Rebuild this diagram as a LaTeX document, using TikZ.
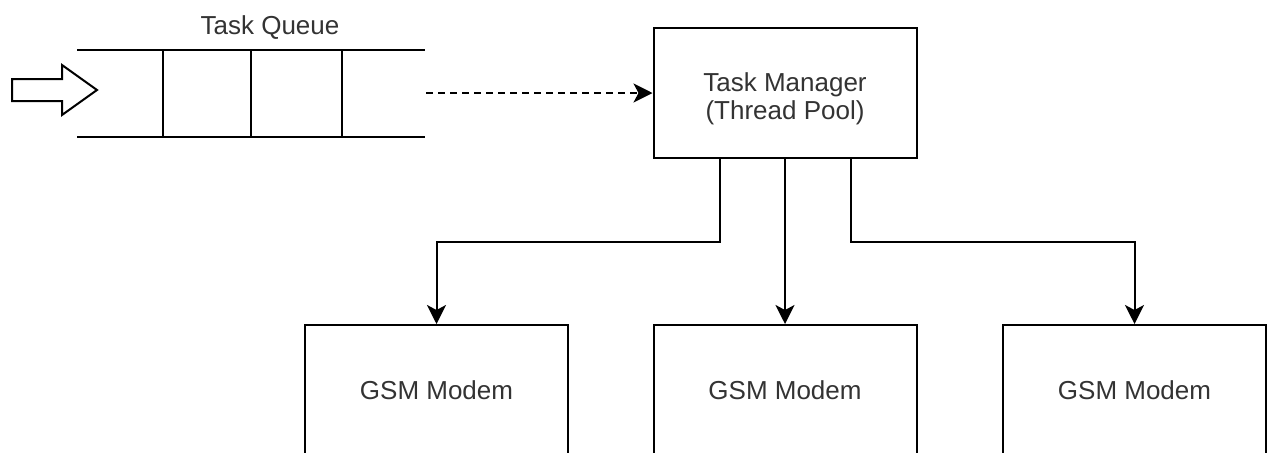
\documentclass[tikz,border=0pt]{standalone}
\usepackage{fontspec}
\setmainfont{Liberation Sans}
\usetikzlibrary{arrows.meta,positioning}

\tikzset{
	box/.style={draw, line width=1pt, minimum width=131.5pt, minimum height=65pt, align=center, inner sep=0pt},
	link/.style={line width=1pt, -{Stealth[length=9.5pt, width=9.5pt, inset=2.5pt]}},
	label/.style={text=black!80, font=\fontsize{13}{14}\selectfont}
}

\begin{document}
\begin{tikzpicture}[x=0.5pt, y=-0.5pt]
			%%%%% START %%%%%
			\clip (0, 0) rectangle (1272, 452);
			
			% queue
			\node[label] (qlabel) at (270, 28) {Task Queue};
			\draw[line width=1pt] (77, 50) -- (425, 50);
			\draw[line width=1pt] (77, 137) -- (425, 137);
			\draw[line width=1pt] (163, 50) -- (163, 137);
			\draw[line width=1pt] (251, 50) -- (251, 137);
			\draw[line width=1pt] (342, 50) -- (342, 137);
			\coordinate (qout) at (426, 93);
			
			% input arrow
			\draw[line width=1pt] (12, 79) -- (62, 79) -- (62, 65) -- (97, 90) -- (62, 115) -- (62, 101) -- (12, 101) -- cycle;
			
			\node[box, label] (tm) at (785, 93) {\rule{0pt}{15pt}Task Manager\\(Thread Pool)};
			
			\node[box, label] (gsmA) at (436.5, 390) {GSM Modem};
			\node[box, label] (gsmB) at (785, 390) {GSM Modem};
			\node[box, label] (gsmC) at (1134.5, 390) {GSM Modem};
			
			\draw[link, dash pattern=on 3.5pt off 2.5pt] (qout) -- (qout -| tm.west);
			
			\draw[link] ([xshift=-32.5pt]tm.south) -- ++(0, 83) -| (gsmA.north);
			\draw[link] (tm.south) -- (gsmB.north);
			\draw[link] ([xshift=33pt]tm.south) -- ++(0, 83) -| (gsmC.north);
			%%%%% END %%%%%
\end{tikzpicture}
\end{document}
